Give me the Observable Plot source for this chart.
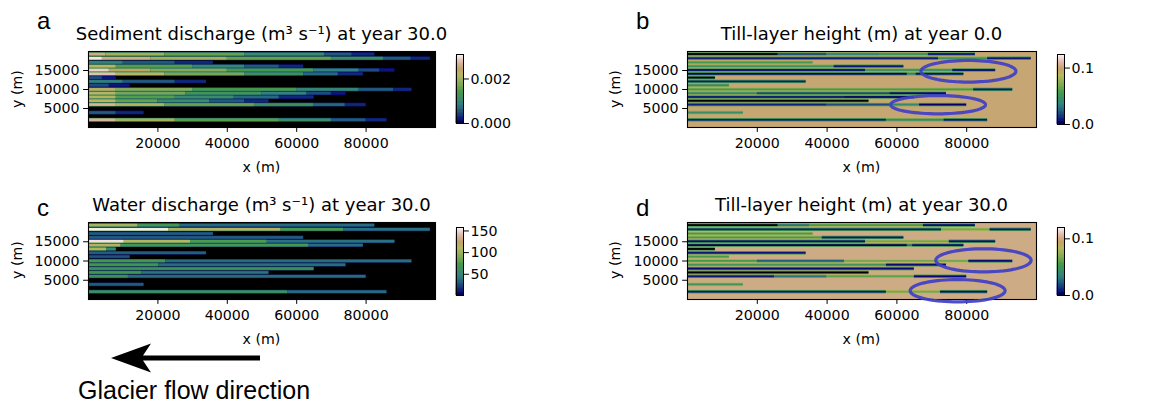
<!DOCTYPE html>
<html><head><meta charset="utf-8">
<script src="https://cdn.jsdelivr.net/npm/d3@7"></script>
<script src="https://cdn.jsdelivr.net/npm/@observablehq/plot@0.6"></script>
<style>
body{margin:0;background:#fff;}
#root{position:relative;width:1157px;height:405px;overflow:hidden;}
#root svg{position:absolute;overflow:visible;}
</style></head><body><div id="root"></div>
<script>
// ---------- data ----------
const xTicks = [20000, 40000, 60000, 80000];
const yTicks = [5000, 10000, 15000];
// channel rows (y centre, m) and their downstream end (x, m)
const rowY = [19200, 18100, 17000, 16000, 15000, 14000, 13000, 12000, 11000, 9900, 8900, 7900, 6900, 5900, 3800, 1900];
const rowEnd = [82500, 98500, 36000, 62000, 88300, 79200, 8000, 34000, 12000, 93200, 74200, 65000, 52000, 80000, 16000, 86000];

// each row: list of [segment end x, value]; segments start where the previous ended (first at 0)
const sediment = [
 [[5000,0.0026],[22000,0.0020],[45000,0.0016],[68000,0.0011],[76000,0.0006],[82500,0.0003]],
 [[4000,0.0030],[18000,0.0026],[40000,0.0020],[70000,0.0016],[85000,0.0011],[93000,0.0006],[98500,0.0003]],
 [[10000,0.0009],[25000,0.0006],[36000,0.0003]],
 [[8000,0.0022],[30000,0.0015],[45000,0.0010],[55000,0.0006],[62000,0.0003]],
 [[6000,0.0029],[18000,0.0024],[40000,0.0018],[65000,0.0014],[78000,0.0009],[84000,0.0005],[88300,0.0002]],
 [[8000,0.0028],[22000,0.0022],[45000,0.0017],[62000,0.0012],[72000,0.0007],[79200,0.0003]],
 [[4000,0.0005],[8000,0.0002]],
 [[10000,0.0009],[25000,0.0006],[34000,0.0003]],
 [[6000,0.0005],[12000,0.0002]],
 [[8000,0.0023],[30000,0.0018],[60000,0.0014],[78000,0.0010],[88000,0.0006],[93200,0.0003]],
 [[8000,0.0022],[28000,0.0017],[50000,0.0013],[63000,0.0009],[70000,0.0005],[74200,0.0002]],
 [[8000,0.0021],[25000,0.0015],[42000,0.0011],[55000,0.0007],[65000,0.0003]],
 [[8000,0.0022],[20000,0.0016],[35000,0.0011],[45000,0.0006],[52000,0.0003]],
 [[8000,0.0027],[22000,0.0021],[48000,0.0016],[65000,0.0012],[74000,0.0007],[80000,0.0003]],
 [[8000,0.0006],[16000,0.0003]],
 [[8000,0.0027],[25000,0.0020],[55000,0.0015],[70000,0.0011],[80000,0.0006],[86000,0.0003]]
];
const water = [
 [[14300,105],[26400,70],[82500,38]],
 [[23100,155],[55500,115],[73500,75],[98500,40]],
 [[36000,32]],
 [[62000,32]],
 [[10300,152],[29400,112],[51500,75],[88300,40]],
 [[9400,115],[63400,70],[79200,38]],
 [[5300,108],[8000,55]],
 [[34000,32]],
 [[12000,28]],
 [[22300,70],[93200,38]],
 [[20300,68],[74200,38]],
 [[65000,62]],
 [[15400,68],[52000,40]],
 [[11500,62],[80000,38]],
 [[16000,32]],
 [[57400,62],[86000,38]]
];
const tillStart = [
 [[26000,0.0],[40000,0.02],[55000,0.035],[69000,0.045],[82500,0.008]],
 [[72000,0.01],[86000,0.05],[98500,0.008]],
 [[36000,0.055]],
 [[42000,0.05],[62000,0.008]],
 [[51000,0.005],[76000,0.045],[88300,0.005]],
 [[63000,0.003],[65500,0.035],[79200,0.006]],
 [[8000,0.0]],
 [[34000,0.01]],
 [[12000,0.04]],
 [[82000,0.055],[93200,0.008]],
 [[20000,0.04],[58000,0.02],[74200,0.005]],
 [[45000,0.008],[65000,0.003]],
 [[52000,0.0]],
 [[40000,0.01],[58000,0.02],[66500,0.04],[80000,0.003]],
 [[16000,0.045]],
 [[57000,0.01],[73500,0.04],[86000,0.008]]
];
const tillEnd = [
 [[26000,0.0],[35000,0.03],[67600,0.055],[82500,0.006]],
 [[72800,0.01],[86700,0.065],[98500,0.008]],
 [[36000,0.055]],
 [[38600,0.055],[62000,0.008]],
 [[51000,0.006],[75000,0.065],[88300,0.006]],
 [[63000,0.002],[64500,0.03],[79200,0.006]],
 [[8000,0.0]],
 [[34000,0.008]],
 [[12000,0.055]],
 [[20000,0.055],[45000,0.025],[80600,0.065],[93200,0.006]],
 [[57000,0.05],[74200,0.006]],
 [[65000,0.005]],
 [[52000,0.0]],
 [[25000,0.008],[40000,0.03],[65000,0.06],[80000,0.005]],
 [[16000,0.05]],
 [[57000,0.008],[72500,0.065],[86000,0.006]]
];
// background (off-channel) values
const bgSediment = 0, bgWater = 0, bgTill = 0.1;
// colour-bar limits
const limSediment = [0, 0.0031], limWater = [1, 158], limTillStart = [0, 0.124], limTillEnd = [0, 0.12];
const cbTicksSediment = [0, 0.002], cbTicksWater = [50, 100, 150], cbTicksTill = [0, 0.1];
// highlighted regions (ellipses): centre x, centre y, radius x, radius y
const ellStartCx = [80500, 71800], ellStartCy = [14800, 6000], ellStartRx = [13600, 13600], ellStartRy = [2850, 2400];
const ellEndCx = [84800, 77400], ellEndCy = [10170, 2280], ellEndRx = [13650, 13600], ellEndRy = [3000, 2890];

// ---------- gist_earth colormap ----------
const GE = {
 r: [[0,0],[0.2824,0.1882],[0.4588,0.2714],[0.5490,0.4719],[0.6980,0.7176],[0.7882,0.7553],[1,0.9922]],
 g: [[0,0],[0.0275,0],[0.1098,0.1893],[0.1647,0.3035],[0.2078,0.3841],[0.2824,0.5020],[0.5216,0.6397],[0.6980,0.7171],[0.7882,0.6392],[0.8157,0.6549],[0.8667,0.6991],[0.8980,0.7430],[0.9412,0.8275],[0.9647,0.8816],[0.9961,0.9733],[1,0.9843]],
 b: [[0,0],[0.0039,0.1684],[0.0078,0.2212],[0.0275,0.4329],[0.0314,0.4549],[0.2824,0.5004],[0.4667,0.2748],[0.5451,0.3205],[0.7843,0.3961],[0.8941,0.6651],[1,0.9843]]
};
function pw(p, t){ if (t <= p[0][0]) return p[0][1]; for (let i = 1; i < p.length; i++) if (t <= p[i][0]) { const [t0,v0]=p[i-1],[t1,v1]=p[i]; return v0+(v1-v0)*(t-t0)/(t1-t0);} return p[p.length-1][1]; }
function gistEarth(t){ t = Math.max(0, Math.min(1, t)); return `rgb(${Math.round(255*pw(GE.r,t))},${Math.round(255*pw(GE.g,t))},${Math.round(255*pw(GE.b,t))})`; }

const root = document.getElementById("root");
const baseStyle = {fontFamily: "DejaVu Sans", fontSize: "14.2px", color: "black", background: "transparent", overflow: "visible"};

function place(svg, left, top){ svg.style.left = left + "px"; svg.style.top = top + "px"; root.appendChild(svg); }

function panel(o){
  const halo = [], core = [];
  o.rows.forEach((row, i) => {
    let x0 = 0;
    row.forEach(([x1, v]) => {
      halo.push({x1: x0, x2: x1, y1: rowY[i] - o.haloH/2, y2: rowY[i] + o.haloH/2, v: o.haloFn(v)});
      core.push({x1: x0, x2: x1, y1: rowY[i] - o.coreH/2, y2: rowY[i] + o.coreH/2, v});
      x0 = x1;
    });
  });
  const ell = [];
  (o.ell ? o.ell.cx : []).forEach((cx, k) => {
    for (let j = 0; j < 72; j++) { const a = j/72*2*Math.PI; ell.push({id: k, x: cx + o.ell.rx[k]*Math.cos(a), y: o.ell.cy[k] + o.ell.ry[k]*Math.sin(a)}); }
  });
  const ml = 60, mr = 6, mt = 6, mb = 30;
  const svg = Plot.plot({
    width: o.w + ml + mr, height: o.h + mt + mb,
    marginLeft: ml, marginRight: mr, marginTop: mt, marginBottom: mb,
    style: baseStyle,
    x: {domain: [0, 100000]},
    y: {domain: [0, 20000]},
    color: {type: "linear", domain: o.lim, interpolate: gistEarth, clamp: true},
    marks: [
      Plot.rect([{x1: 0, x2: 100000, y1: 0, y2: 20000, v: o.bg}], {x1: "x1", x2: "x2", y1: "y1", y2: "y2", fill: "v"}),
      Plot.rect(halo, {x1: "x1", x2: "x2", y1: "y1", y2: "y2", fill: "v"}),
      Plot.rect(core, {x1: "x1", x2: "x2", y1: "y1", y2: "y2", fill: "v"}),
      Plot.frame({stroke: "black", strokeWidth: 1.1}),
      Plot.axisX({ticks: xTicks, tickFormat: d3.format("d"), tickSize: 4.9, tickPadding: 6, label: null}),
      Plot.axisY({ticks: yTicks, tickFormat: d3.format("d"), tickSize: 4.9, tickPadding: 4, label: null}),
      Plot.line(ell, {x: "x", y: "y", z: "id", stroke: "#3f3fc6", strokeWidth: 3.2, strokeOpacity: 0.92, curve: "linear-closed"})
    ]
  });
  place(svg, o.left - ml, o.top - mt);

  // colour bar
  const cml = 1, cmr = 50, cmt = 4, cmb = 4, n = 120;
  const steps = d3.range(n).map(i => ({y1: o.lim[0] + (o.lim[1]-o.lim[0])*i/n, y2: o.lim[0] + (o.lim[1]-o.lim[0])*(i+1)/n}));
  const cb = Plot.plot({
    width: o.cw + cml + cmr, height: o.ch + cmt + cmb,
    marginLeft: cml, marginRight: cmr, marginTop: cmt, marginBottom: cmb,
    style: baseStyle,
    x: {domain: [0, 1], axis: null},
    y: {domain: o.lim},
    color: {type: "linear", domain: o.lim, interpolate: gistEarth, clamp: true},
    marks: [
      Plot.rect(steps, {x1: 0, x2: 1, y1: "y1", y2: "y2", fill: d => (d.y1 + d.y2)/2, inset: -0.3}),
      Plot.frame({stroke: "black", strokeWidth: 1}),
      Plot.axisY({anchor: "right", ticks: o.cbTicks, tickFormat: d3.format(o.cbFmt), tickSize: 4.9, tickPadding: 2, label: null})
    ]
  });
  place(cb, o.cx - cml, o.cy - cmt);
}

panel({left: 88, top: 51, w: 347, h: 76, rows: sediment, bg: bgSediment, lim: limSediment, haloFn: v => v*0.5, haloH: 1000, coreH: 700,
  cx: 456, cy: 54, cw: 7, ch: 69, cbTicks: cbTicksSediment, cbFmt: ".3f"});
panel({left: 687, top: 51, w: 349, h: 76, rows: tillStart, bg: bgTill, lim: limTillStart, haloFn: v => (v + bgTill)/2, haloH: 900, coreH: 460,
  ell: {cx: ellStartCx, cy: ellStartCy, rx: ellStartRx, ry: ellStartRy},
  cx: 1057, cy: 54, cw: 7, ch: 70, cbTicks: cbTicksTill, cbFmt: ".1f"});
panel({left: 88, top: 222, w: 347, h: 77, rows: water, bg: bgWater, lim: limWater, haloFn: v => v*0.5, haloH: 950, coreH: 650,
  cx: 456, cy: 227, cw: 7, ch: 68, cbTicks: cbTicksWater, cbFmt: "d"});
panel({left: 687, top: 222, w: 349, h: 77, rows: tillEnd, bg: bgTill, lim: limTillEnd, haloFn: v => (v + bgTill)/2, haloH: 900, coreH: 460,
  ell: {cx: ellEndCx, cy: ellEndCy, rx: ellEndRx, ry: ellEndRy},
  cx: 1057, cy: 227, cw: 7, ch: 68, cbTicks: cbTicksTill, cbFmt: ".1f"});

// ---------- text overlay ----------
const NS = "http://www.w3.org/2000/svg";
const ov = document.createElementNS(NS, "svg");
ov.setAttribute("width", 1157); ov.setAttribute("height", 405);
ov.style.left = "0px"; ov.style.top = "0px";
function txt(s, x, y, size, fam, anchor, rot){
  const t = document.createElementNS(NS, "text");
  t.textContent = s; t.setAttribute("font-size", size); t.setAttribute("font-family", fam);
  t.setAttribute("text-anchor", anchor || "start"); t.setAttribute("fill", "black");
  if (rot) t.setAttribute("transform", `translate(${x},${y}) rotate(-90)`); else { t.setAttribute("x", x); t.setAttribute("y", y); }
  ov.appendChild(t);
}
const DJ = "DejaVu Sans", HV = "Liberation Sans, Arial, sans-serif";
const titles = ["Sediment discharge (m³ s⁻¹) at year 30.0", "Till-layer height (m) at year 0.0", "Water discharge (m³ s⁻¹) at year 30.0", "Till-layer height (m) at year 30.0"];
const letters = ["a", "b", "c", "d"];
const cxs = [261.5, 861.5, 261.5, 861.5], tY = [39.5, 39.5, 210.5, 210.5], lX = [37, 636, 37, 636], lY = [29, 29, 216, 216];
const xlY = [172, 172, 344, 344], ylX = [22, 620, 22, 620], ylY = [89, 89, 260, 260];
for (let i = 0; i < 4; i++) {
  txt(titles[i], cxs[i], tY[i], 18, DJ, "middle");
  txt(letters[i], lX[i], lY[i], 24, HV);
  txt("x (m)", cxs[i], xlY[i], 14.2, DJ, "middle");
  txt("y (m)", ylX[i], ylY[i], 14.2, DJ, "middle", true);
}
const arrow = document.createElementNS(NS, "path");
arrow.setAttribute("d", "M111,358 L151,343.5 L143,355.5 L260,355.5 L260,360.5 L143,360.5 L151,372.5 Z");
arrow.setAttribute("fill", "black");
ov.appendChild(arrow);
txt("Glacier flow direction", 78, 399, 25, HV);
root.appendChild(ov);
</script></body></html>
